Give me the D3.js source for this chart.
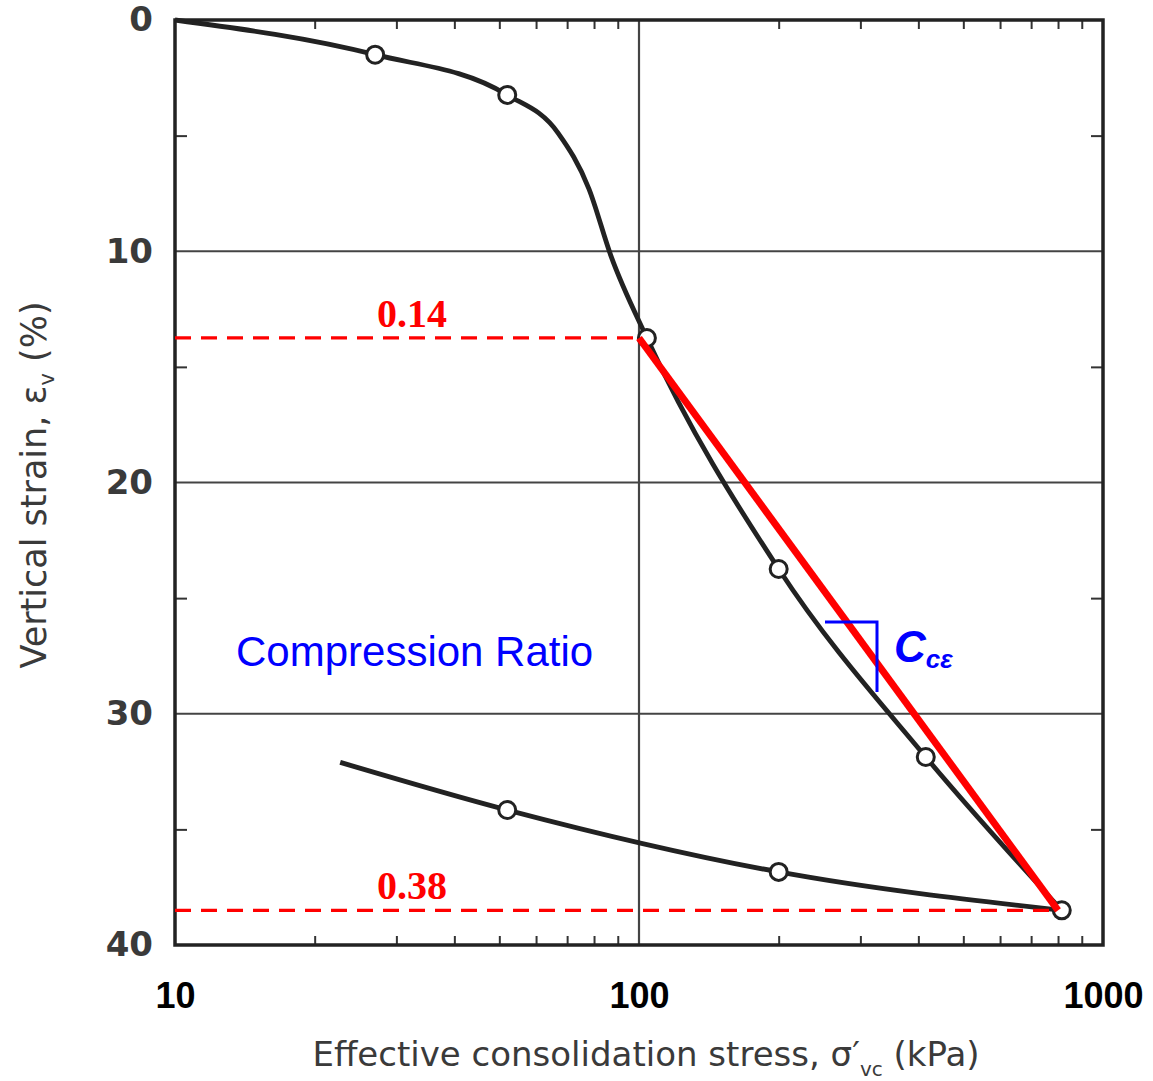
<!DOCTYPE html>
<html>
<head>
<meta charset="utf-8">
<script src="https://cdn.jsdelivr.net/npm/d3@7"></script>
<style>
  body { margin: 0; background: #fff; }
  svg { display: block; }
</style>
</head>
<body>
<div class="chart"></div>
<script>
// loading curve (kPa, %) - circles are the test points
const loadStress = [10, 27, 52, 67, 78, 87, 104, 200, 415, 815];
const loadStrain = [0, 1.5, 3.24, 4.9, 7.3, 10.2, 13.75, 23.74, 31.87, 38.5];
const loadMarked = [false, true, true, false, false, false, true, true, true, true];
// unloading curve
const unloadStress = [22.7, 52, 200, 815];
const unloadStrain = [32.1, 34.16, 36.84, 38.5];
const unloadMarked = [false, true, true, false];
// slope annotation
const cceStress = [100, 800];
const cceStrain = [13.75, 38.5];
const cceLabels = ['0.14', '0.38'];
// axis ticks
const xLabels = [10, 100, 1000];
const xMinor = [20, 30, 40, 50, 60, 70, 80, 90, 200, 300, 400, 500, 600, 700, 800, 900];
const yLabels = [0, 10, 20, 30, 40];
const yMinor = [5, 15, 25, 35];
const yGrid = [10, 20, 30];

const width = 1153;
const height = 1081;

const svg = d3.select('.chart').append('svg')
    .attr('width', width)
    .attr('height', height);

const x = d3.scaleLog().domain([10, 1000]).range([175, 1103]);
const y = d3.scaleLinear().domain([0, 40]).range([20, 945]);

// grid lines
svg.selectAll('.hgrid').data(yGrid).enter().append('line')
    .attr('x1', x(10)).attr('x2', x(1000))
    .attr('y1', d => y(d)).attr('y2', d => y(d))
    .attr('stroke', '#444').attr('stroke-width', 2.2);
svg.append('line')
    .attr('x1', x(100)).attr('x2', x(100))
    .attr('y1', y(0)).attr('y2', y(40))
    .attr('stroke', '#444').attr('stroke-width', 2.2);

// minor ticks pointing inward, all four sides
const tickStyle = g => {
    g.select('.domain').remove();
    g.selectAll('.tick line').attr('stroke', '#333').attr('stroke-width', 2);
    g.selectAll('.tick text').remove();
};
svg.append('g').attr('transform', `translate(0,${y(40)})`)
    .call(d3.axisBottom(x).tickValues(xMinor).tickSize(-9)).call(tickStyle);
svg.append('g').attr('transform', `translate(0,${y(0)})`)
    .call(d3.axisTop(x).tickValues(xMinor).tickSize(-9)).call(tickStyle);
svg.append('g').attr('transform', `translate(${x(10)},0)`)
    .call(d3.axisLeft(y).tickValues(yMinor).tickSize(-12)).call(tickStyle);
svg.append('g').attr('transform', `translate(${x(1000)},0)`)
    .call(d3.axisRight(y).tickValues(yMinor).tickSize(-12)).call(tickStyle);

// frame
svg.append('rect')
    .attr('x', x(10)).attr('y', y(0))
    .attr('width', x(1000) - x(10)).attr('height', y(40) - y(0))
    .attr('fill', 'none').attr('stroke', '#222').attr('stroke-width', 3.5);

// y tick labels
const yAxis = svg.append('g').attr('transform', `translate(${x(10)},0)`)
    .call(d3.axisLeft(y).tickValues(yLabels).tickSize(0).tickPadding(22));
yAxis.select('.domain').remove();
yAxis.selectAll('.tick text')
    .attr('font-family', 'DejaVu Sans, sans-serif')
    .attr('font-weight', 'bold')
    .attr('font-size', 34)
    .attr('fill', '#3a3a3a');

// x tick labels
const xAxis = svg.append('g').attr('transform', `translate(0,${y(40)})`)
    .call(d3.axisBottom(x).tickValues(xLabels).tickFormat(d3.format('d')).tickSize(0).tickPadding(37));
xAxis.select('.domain').remove();
xAxis.selectAll('.tick text')
    .attr('font-family', 'Liberation Sans Narrow, Liberation Sans, Arial, sans-serif')
    .attr('font-weight', 'bold')
    .attr('font-size', 36)
    .attr('fill', '#000');

// curves
const line = d3.line()
    .x(d => x(d.s))
    .y(d => y(d.e))
    .curve(d3.curveMonotoneX);

const loadData = loadStress.map((s, i) => ({s: s, e: loadStrain[i], m: loadMarked[i]}));
const unloadData = unloadStress.map((s, i) => ({s: s, e: unloadStrain[i], m: unloadMarked[i]}));

[loadData, unloadData].forEach(data => {
    svg.append('path')
        .datum(data)
        .attr('d', line)
        .attr('fill', 'none')
        .attr('stroke', '#222')
        .attr('stroke-width', 4.8);
});

svg.selectAll('.pt')
    .data(loadData.concat(unloadData).filter(d => d.m))
    .enter().append('circle')
    .attr('cx', d => x(d.s))
    .attr('cy', d => y(d.e))
    .attr('r', 8.5)
    .attr('fill', '#fff')
    .attr('stroke', '#222')
    .attr('stroke-width', 3);

// red dashed references
cceStress.forEach((s, i) => {
    svg.append('line')
        .attr('x1', x(10)).attr('x2', x(s))
        .attr('y1', y(cceStrain[i])).attr('y2', y(cceStrain[i]))
        .attr('stroke', '#ff0000')
        .attr('stroke-width', 3.2)
        .attr('stroke-dasharray', '16,10');
    svg.append('text')
        .attr('x', 412)
        .attr('y', y(cceStrain[i]) - 11)
        .attr('text-anchor', 'middle')
        .attr('font-family', 'Liberation Serif, DejaVu Serif, serif')
        .attr('font-weight', 'bold')
        .attr('font-size', 40)
        .attr('fill', '#ff0000')
        .text(cceLabels[i]);
});

// red slope line
svg.append('line')
    .attr('x1', x(cceStress[0])).attr('y1', y(cceStrain[0]))
    .attr('x2', x(cceStress[1])).attr('y2', y(cceStrain[1]))
    .attr('stroke', '#ff0000')
    .attr('stroke-width', 7);

// slope bracket + label
svg.append('path')
    .attr('d', 'M825,622 H877 V692')
    .attr('fill', 'none')
    .attr('stroke', '#0000ff')
    .attr('stroke-width', 3);
const cce = svg.append('text')
    .attr('x', 894).attr('y', 662)
    .attr('font-family', 'Liberation Sans, Arial, sans-serif')
    .attr('font-weight', 'bold')
    .attr('font-style', 'italic')
    .attr('fill', '#0000ff');
cce.append('tspan').attr('font-size', 44).text('C');
cce.append('tspan').attr('font-size', 26).attr('dy', 6).text('cε');

svg.append('text')
    .attr('x', 236).attr('y', 666)
    .attr('font-family', 'Liberation Sans, Arial, sans-serif')
    .attr('font-size', 42)
    .attr('fill', '#0000ff')
    .text('Compression Ratio');

// axis titles
const yTitle = svg.append('text')
    .attr('transform', 'translate(46,485) rotate(-90)')
    .attr('text-anchor', 'middle')
    .attr('font-family', 'DejaVu Sans, sans-serif')
    .attr('font-size', 35)
    .attr('fill', '#3a3a3a');
yTitle.append('tspan').text('Vertical strain, ε');
yTitle.append('tspan').attr('font-size', 21).attr('dy', 8).text('v');
yTitle.append('tspan').attr('dy', -8).text(' (%)');

const xTitle = svg.append('text')
    .attr('x', 646).attr('y', 1066)
    .attr('text-anchor', 'middle')
    .attr('font-family', 'DejaVu Sans, sans-serif')
    .attr('font-size', 34)
    .attr('fill', '#3a3a3a');
xTitle.append('tspan').text('Effective consolidation stress, σ′');
xTitle.append('tspan').attr('font-size', 20).attr('dy', 10).text('vc');
xTitle.append('tspan').attr('dy', -10).text(' (kPa)');
</script>
</body>
</html>
